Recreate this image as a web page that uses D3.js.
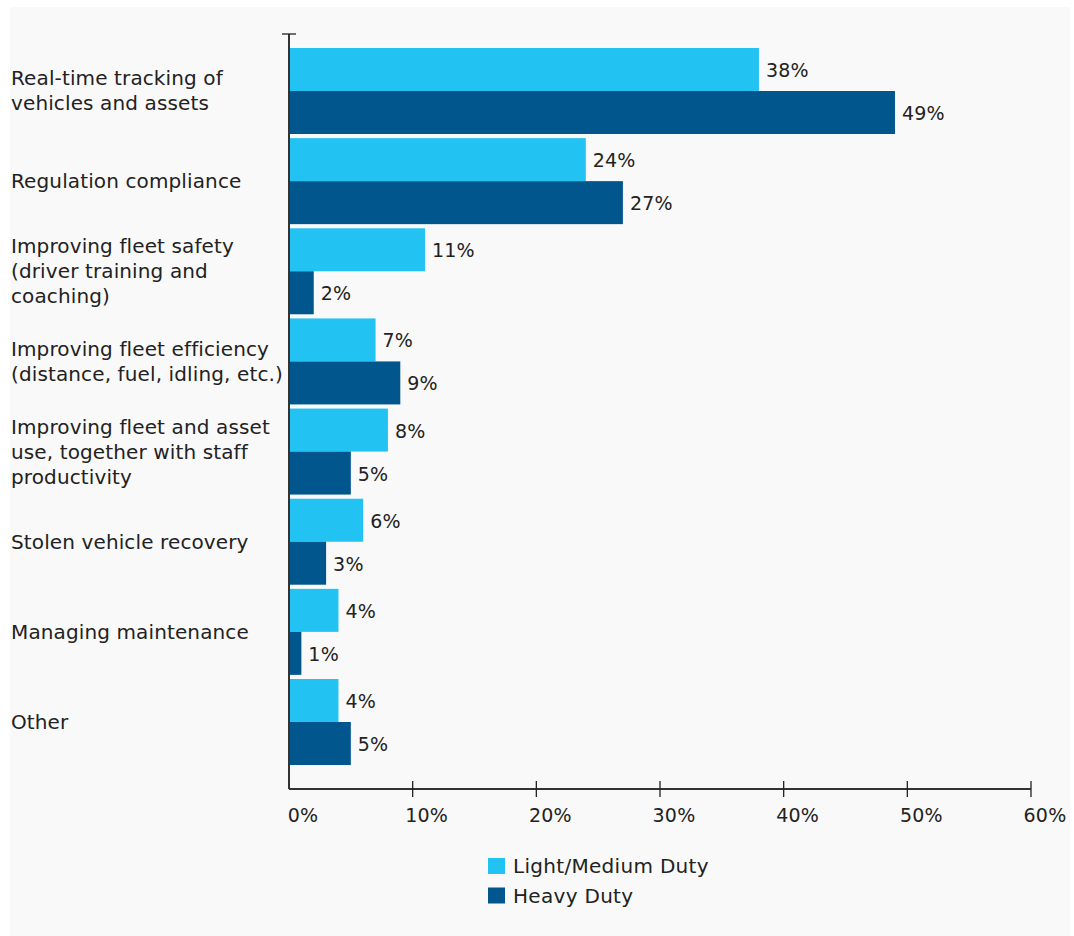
<!DOCTYPE html>
<html>
<head>
<meta charset="utf-8">
<script src="https://cdn.jsdelivr.net/npm/d3@7"></script>
<style>
  html, body { margin: 0; padding: 0; background: #ffffff; }
  svg { display: block; }
  text { font-family: "DejaVu Sans", sans-serif; fill: #222; }
</style>
</head>
<body>
<svg id="chart" width="1074" height="936"></svg>
<script>
const categories = [
  "Real-time tracking of vehicles and assets",
  "Regulation compliance",
  "Improving fleet safety (driver training and coaching)",
  "Improving fleet efficiency (distance, fuel, idling, etc.)",
  "Improving fleet and asset use, together with staff productivity",
  "Stolen vehicle recovery",
  "Managing maintenance",
  "Other"
];
const categoryLines = [
  ["Real-time tracking of", "vehicles and assets"],
  ["Regulation compliance"],
  ["Improving fleet safety", "(driver training and", "coaching)"],
  ["Improving fleet efficiency", "(distance, fuel, idling, etc.)"],
  ["Improving fleet and asset", "use, together with staff", "productivity"],
  ["Stolen vehicle recovery"],
  ["Managing maintenance"],
  ["Other"]
];
const seriesNames = ["Light/Medium Duty", "Heavy Duty"];
const lightValues = [38, 24, 11, 7, 8, 6, 4, 4];
const heavyValues = [49, 27, 2, 9, 5, 3, 1, 5];
const tickValues = [0, 10, 20, 30, 40, 50, 60];
const colors = ["#22c3f3", "#01568d"];

const svg = d3.select("#chart");
svg.append("rect").attr("x", 10).attr("y", 7).attr("width", 1060).attr("height", 929).attr("fill", "#f9f9f9");

const x = d3.scaleLinear().domain([0, 60]).range([289, 1031]);
const y = d3.scaleBand().domain(categories).range([48, 765]).paddingInner(0.046).paddingOuter(0);
const ySub = d3.scaleBand().domain(seriesNames).range([0, y.bandwidth()]).padding(0);

const rows = categories.map((c, i) => ({cat: c, lines: categoryLines[i], vals: [lightValues[i], heavyValues[i]]}));

const g = svg.append("g");
const groups = g.selectAll("g.cat").data(rows).join("g").attr("class", "cat")
  .attr("transform", d => `translate(0,${y(d.cat)})`);

groups.selectAll("rect").data(d => d.vals.map((v, j) => ({v, s: seriesNames[j], j})))
  .join("rect")
  .attr("x", x(0))
  .attr("y", d => ySub(d.s))
  .attr("width", d => x(d.v) - x(0))
  .attr("height", ySub.bandwidth())
  .attr("fill", d => colors[d.j]);

groups.selectAll("text.val").data(d => d.vals.map((v, j) => ({v, s: seriesNames[j], j})))
  .join("text").attr("class", "val")
  .attr("x", d => x(d.v) + 7)
  .attr("y", d => ySub(d.s) + ySub.bandwidth() / 2 + 7.5)
  .attr("font-size", 19)
  .attr("letter-spacing", 0.2)
  .text(d => d.v + "%");

// category labels
groups.each(function(d) {
  const n = d.lines.length;
  const c = y.bandwidth() / 2;
  const t = d3.select(this).append("text").attr("font-size", 20).attr("letter-spacing", 0.12);
  d.lines.forEach((line, i) => {
    t.append("tspan").attr("x", 11).attr("y", c - (n - 1) / 2 * 25 + i * 25 + 7).text(line);
  });
});

// axes
const axisY = 789;
svg.append("line").attr("x1", x(0)).attr("x2", x(0)).attr("y1", 34).attr("y2", axisY)
  .attr("stroke", "#333").attr("stroke-width", 2);
svg.append("line").attr("x1", x(0) - 7).attr("x2", x(0) + 7).attr("y1", 34).attr("y2", 34)
  .attr("stroke", "#222").attr("stroke-width", 1.3);
svg.append("line").attr("x1", x(0)).attr("x2", x(60)).attr("y1", axisY).attr("y2", axisY)
  .attr("stroke", "#333").attr("stroke-width", 2);

svg.selectAll("line.tick").data(tickValues.filter(v => v > 0)).join("line").attr("class", "tick")
  .attr("x1", d => x(d)).attr("x2", d => x(d)).attr("y1", axisY - 8).attr("y2", axisY + 8)
  .attr("stroke", "#222").attr("stroke-width", 1.3);

svg.selectAll("text.tickl").data(tickValues).join("text").attr("class", "tickl")
  .attr("x", d => x(d) + 14).attr("y", 822)
  .attr("text-anchor", "middle").attr("font-size", 19).attr("letter-spacing", 0.2)
  .text(d => d + "%");

// legend
const leg = svg.append("g").selectAll("g").data(seriesNames).join("g")
  .attr("transform", (d, i) => `translate(488,${858 + i * 29.5})`);
leg.append("rect").attr("width", 17).attr("height", 16).attr("fill", (d, i) => colors[i]);
leg.append("text").attr("x", 25).attr("y", 15).attr("font-size", 20).attr("letter-spacing", 0.3).text(d => d);
</script>
</body>
</html>
